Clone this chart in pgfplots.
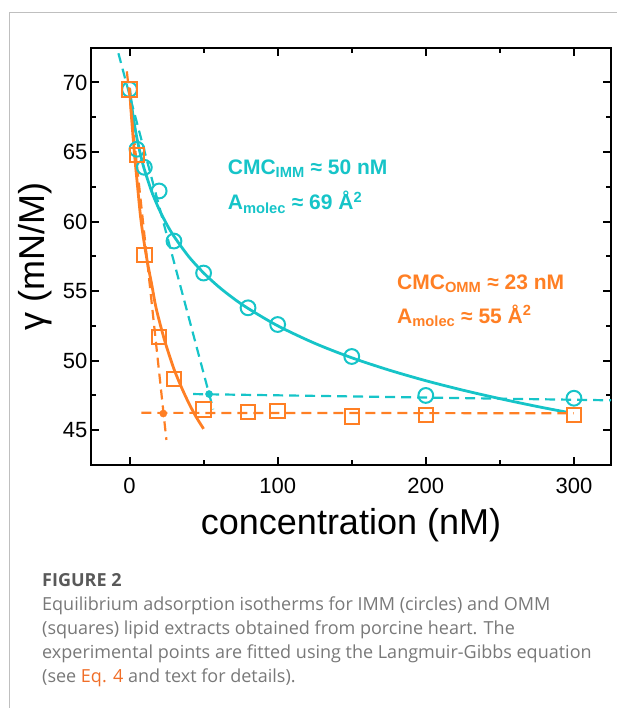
\documentclass[border=0pt]{standalone}
\usepackage{fontspec}
\setmainfont{Liberation Sans}
\newfontfamily\capfont{Open Sans}
\usepackage{pgfplots}
\pgfplotsset{compat=1.18}

\definecolor{imm}{RGB}{22,196,200}
\definecolor{omm}{RGB}{255,127,36}
\definecolor{capgray}{RGB}{120,120,120}
\definecolor{eqorange}{RGB}{240,110,40}

\begin{document}
\begin{tikzpicture}[x=1pt,y=1pt]
\path[use as bounding box] (0,0) rectangle (617,-708);
\draw[line width=1pt, black!25] (9.3,-708) -- (9.3,-12.3) -- (617,-12.3);

\begin{axis}[
    at={(91pt,-47.7pt)}, anchor=north west,
    scale only axis,
    width=520pt, height=417.3pt,
    xmin=-26, xmax=325,
    ymin=42.5, ymax=72.5,
    xtick={0,100,200,300},
    minor xtick={50,150,250},
    ytick={45,50,55,60,65,70},
    minor ytick={47.5,52.5,57.5,62.5,67.5},
    tick pos=both, tick align=inside,
    major tick length=8pt, minor tick length=5pt,
    every tick/.style={black, line width=2pt},
    axis line style={line width=2.2pt},
    /pgf/number format/assume math mode=true,
    ticklabel style={font=\fontsize{22}{26}\selectfont},
    xticklabel shift=10pt,
    xlabel={concentration (nM)},
    ylabel={γ (mN/M)},
    label style={font=\fontsize{36}{40}\selectfont},
    xlabel style={at={(axis description cs:0.5,-0.1655)}, anchor=base},
    ylabel style={at={(axis description cs:-0.108,0.5)}, anchor=center},
]

% Langmuir-Gibbs fits
\addplot[imm, line width=2.8pt, smooth] coordinates {
  (0,69.60) (2,67.89) (4,66.56) (6,65.48) (8,64.56) (10,63.76) (15,62.15)
  (20,60.88) (25,59.83) (30,58.94) (40,57.48) (50,56.31) (60,55.33)
  (70,54.49) (80,53.76) (100,52.51) (125,51.25) (150,50.21) (175,49.33)
  (200,48.56) (225,47.88) (250,47.27) (275,46.71) (295,46.30)
};
\addplot[omm, line width=2.8pt, smooth] coordinates {
  (0,69.6) (1,68.0) (2,66.6) (3,65.3) (4,64.1) (5,63.0) (7.5,60.3)
  (10,58.4) (12.5,56.84) (15,55.47) (17.5,54.0) (20,52.9) (22.5,51.9)
  (25,51.0) (30,49.4) (35,48.1) (40,46.95) (45,45.95) (50,45.1)
};

% tangent construction
\addplot[imm, line width=2.2pt, dash pattern=on 10pt off 6pt] coordinates {(-7.5,72.1) (56.5,46.5)};
\addplot[imm, line width=2.2pt, dash pattern=on 10pt off 6pt] coordinates {(43,47.6) (325,47.15)};
\addplot[omm, line width=2.2pt, dash pattern=on 10pt off 6pt] coordinates {(-1.8,70.8) (24.9,44.3)};
\addplot[omm, line width=2.2pt, dash pattern=on 10pt off 6pt] coordinates {(8,46.25) (300,46.22)};
\addplot[imm, only marks, mark=*, mark size=3.6pt] coordinates {(53.7,47.6)};
\addplot[omm, only marks, mark=*, mark size=3.6pt] coordinates {(22.8,46.2)};

% IMM (circles)
\addplot[imm, only marks, mark=o, mark size=7.4pt, mark options={line width=2pt}] coordinates {
  (0,69.5) (5,65.2) (10,63.9) (20,62.2) (30,58.6) (50,56.3) (80,53.8)
  (100,52.6) (150,50.3) (200,47.5) (300,47.3)
};
% OMM (squares)
\addplot[omm, only marks, mark=square, mark size=7.2pt, mark options={line width=2pt}] coordinates {
  (0,69.5) (5,64.8) (10,57.6) (20,51.7) (30,48.7) (50,46.5) (80,46.3)
  (100,46.4) (150,46.0) (200,46.1) (300,46.1)
};

\node[anchor=base west, text=imm, font=\bfseries\fontsize{21}{25}\selectfont] at (axis cs:64,63.36) {CMC\textsubscript{IMM} ≈ 50 nM};
\node[anchor=base west, text=imm, font=\bfseries\fontsize{21}{25}\selectfont] at (axis cs:64,60.84) {A\textsubscript{molec} ≈ 69 Å\textsuperscript{2}};
\node[anchor=base west, text=omm, font=\bfseries\fontsize{21}{25}\selectfont] at (axis cs:178.3,55.14) {CMC\textsubscript{OMM} ≈ 23 nM};
\node[anchor=base west, text=omm, font=\bfseries\fontsize{21}{25}\selectfont] at (axis cs:178.3,52.7) {A\textsubscript{molec} ≈ 55 Å\textsuperscript{2}};
\end{axis}

\begin{scope}[every node/.style={anchor=base west, inner sep=0pt, text=capgray, font=\capfont\fontsize{18}{24}\selectfont}]
\node[font=\capfont\bfseries\fontsize{18}{24}\selectfont, text=black!65] at (42,-586) {FIGURE 2};
\node at (42,-610) {Equilibrium adsorption isotherms for IMM (circles) and OMM};
\node at (42,-634) {(squares) lipid extracts obtained from porcine heart. The};
\node at (42,-658) {experimental points are fitted using the Langmuir-Gibbs equation};
\node at (42,-682) {(see \textcolor{eqorange}{Eq. 4} and text for details).};
\end{scope}
\end{tikzpicture}
\end{document}
